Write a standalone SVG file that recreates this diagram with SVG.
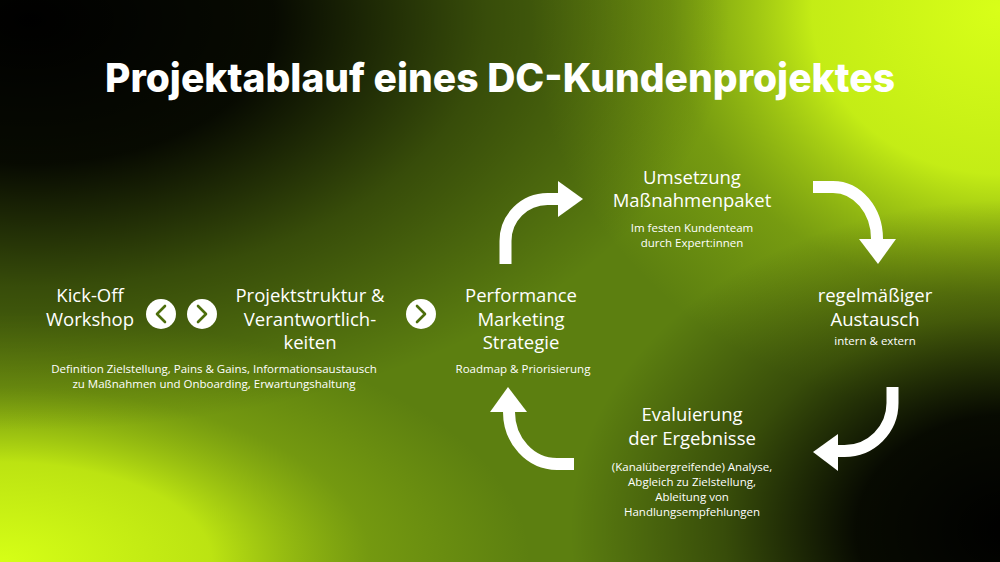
<svg xmlns="http://www.w3.org/2000/svg" width="1000" height="562" viewBox="0 0 1000 562">
<defs>
<radialGradient id="gTL" gradientUnits="userSpaceOnUse" cx="0" cy="0" r="1" gradientTransform="translate(30,20) scale(700,410)">
<stop offset="0" stop-color="#000" stop-opacity="1"/>
<stop offset="0.35" stop-color="#000" stop-opacity="0.92"/>
<stop offset="0.65" stop-color="#000" stop-opacity="0.4"/>
<stop offset="1" stop-color="#000" stop-opacity="0"/>
</radialGradient>
<radialGradient id="gTR" gradientUnits="userSpaceOnUse" cx="0" cy="0" r="1" gradientTransform="translate(1000,10) scale(470,410)">
<stop offset="0" stop-color="#d8ff18" stop-opacity="1"/>
<stop offset="0.4" stop-color="#cdf616" stop-opacity="0.92"/>
<stop offset="0.7" stop-color="#a8d012" stop-opacity="0.35"/>
<stop offset="1" stop-color="#a8d012" stop-opacity="0"/>
</radialGradient>
<radialGradient id="gBL" gradientUnits="userSpaceOnUse" cx="0" cy="0" r="1" gradientTransform="translate(0,562) scale(530,250)">
<stop offset="0" stop-color="#d6ff16" stop-opacity="1"/>
<stop offset="0.4" stop-color="#c4ec12" stop-opacity="0.92"/>
<stop offset="0.7" stop-color="#a0c810" stop-opacity="0.35"/>
<stop offset="1" stop-color="#a0c810" stop-opacity="0"/>
</radialGradient>
<radialGradient id="gBR" gradientUnits="userSpaceOnUse" cx="0" cy="0" r="1" gradientTransform="translate(1010,530) scale(440,330)">
<stop offset="0" stop-color="#000" stop-opacity="1"/>
<stop offset="0.35" stop-color="#000" stop-opacity="0.92"/>
<stop offset="0.65" stop-color="#000" stop-opacity="0.4"/>
<stop offset="1" stop-color="#000" stop-opacity="0"/>
</radialGradient>
<style>
.t{font-family:"Open Sans","Liberation Sans",sans-serif;fill:#fff;text-anchor:middle}
.h{font-size:18.5px;font-weight:400}
.s{font-size:11.5px;font-weight:400}
.title{font-family:"Inter","Open Sans","Liberation Sans",sans-serif;font-size:40px;font-weight:800;fill:#fff;text-anchor:middle}
.shaft{fill:none;stroke:#fff;stroke-width:12}
.head{fill:#fff}
.btn{fill:#fff}
.chev{fill:none;stroke:#4d6e0c;stroke-width:2.6;stroke-linecap:round;stroke-linejoin:round}
</style>
</defs>
<rect width="1000" height="562" fill="#5c7f10"/>
<rect width="1000" height="562" fill="url(#gTR)"/>
<rect width="1000" height="562" fill="url(#gBL)"/>
<rect width="1000" height="562" fill="url(#gTL)"/>
<rect width="1000" height="562" fill="url(#gBR)"/>

<text class="title" x="500" y="92" textLength="790" lengthAdjust="spacingAndGlyphs">Projektablauf eines DC-Kundenprojektes</text>

<g id="kickoff">
<text class="t h" x="90" y="302">Kick-Off</text>
<text class="t h" x="90" y="326">Workshop</text>
<text class="t s" x="214" y="373">Definition Zielstellung, Pains &amp; Gains, Informationsaustausch</text>
<text class="t s" x="214" y="388">zu Maßnahmen und Onboarding, Erwartungshaltung</text>
</g>
<g id="projektstruktur">
<text class="t h" x="310" y="302">Projektstruktur &amp;</text>
<text class="t h" x="310" y="326">Verantwortlich-</text>
<text class="t h" x="310" y="349">keiten</text>
</g>
<g id="strategie">
<text class="t h" x="521" y="302">Performance</text>
<text class="t h" x="521" y="326">Marketing</text>
<text class="t h" x="521" y="349">Strategie</text>
<text class="t s" x="523" y="373">Roadmap &amp; Priorisierung</text>
</g>
<g id="umsetzung">
<text class="t h" x="692" y="184">Umsetzung</text>
<text class="t h" x="692" y="207">Maßnahmenpaket</text>
<text class="t s" x="692" y="232">Im festen Kundenteam</text>
<text class="t s" x="692" y="247">durch Expert:innen</text>
</g>
<g id="austausch">
<text class="t h" x="875" y="302">regelmäßiger</text>
<text class="t h" x="875" y="326">Austausch</text>
<text class="t s" x="875" y="345">intern &amp; extern</text>
</g>
<g id="evaluierung">
<text class="t h" x="692" y="421">Evaluierung</text>
<text class="t h" x="692" y="445">der Ergebnisse</text>
<text class="t s" x="692" y="471">(Kanalübergreifende) Analyse,</text>
<text class="t s" x="692" y="486">Abgleich zu Zielstellung,</text>
<text class="t s" x="692" y="501">Ableitung von</text>
<text class="t s" x="692" y="516">Handlungsempfehlungen</text>
</g>

<g id="connectors">
<g id="btn-back">
<circle class="btn" cx="161" cy="314" r="15"/>
<polyline class="chev" points="165,306 157,314 165,322"/>
</g>
<g id="btn-next1">
<circle class="btn" cx="202" cy="314" r="15"/>
<polyline class="chev" points="198,306 206,314 198,322"/>
</g>
<g id="btn-next2">
<circle class="btn" cx="421" cy="314" r="15"/>
<polyline class="chev" points="417,306 425,314 417,322"/>
</g>
<g id="arrow-up-right">
<path class="shaft" d="M505.5,264 V241 A42,42 0 0 1 547.5,199 H559"/>
<polygon class="head" points="558,181 583,199 558,217"/>
</g>
<g id="arrow-right-down">
<path class="shaft" d="M813,187 H833 A44,52 0 0 1 877,239 V240"/>
<polygon class="head" points="859,239 896,239 878,264"/>
</g>
<g id="arrow-down-left">
<path class="shaft" d="M892.5,387 V403 A48,48 0 0 1 844.5,451 H837"/>
<polygon class="head" points="838,434 838,471 813,452"/>
</g>
<g id="arrow-left-up">
<path class="shaft" d="M574,464 H557 A48,52 0 0 1 509,412 V411"/>
<polygon class="head" points="490,412 527,412 508,387"/>
</g>
</g>
</svg>
